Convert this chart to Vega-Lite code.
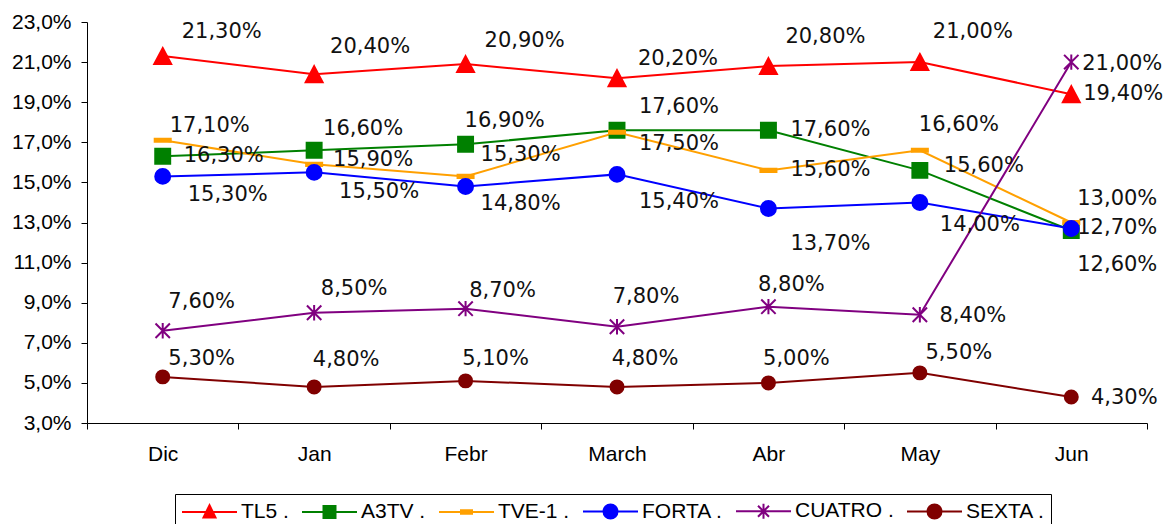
{
  "$schema": "https://vega.github.io/schema/vega-lite/v6.json",
  "autosize": {"type": "none"},
  "padding": {"left": 87, "top": 22, "right": 20, "bottom": 101},
  "width": 1060,
  "height": 401,
  "config": {
    "view": {"stroke": null},
    "locale": {"number": {"decimal": ",", "thousands": ".", "grouping": [3], "currency": ["", " €"]}}
  },
  "data": {
    "values": [
      {"month": "Dic", "series": "TL5 .", "v": 0.213},
      {"month": "Jan", "series": "TL5 .", "v": 0.204},
      {"month": "Febr", "series": "TL5 .", "v": 0.209},
      {"month": "March", "series": "TL5 .", "v": 0.202},
      {"month": "Abr", "series": "TL5 .", "v": 0.208},
      {"month": "May", "series": "TL5 .", "v": 0.210},
      {"month": "Jun", "series": "TL5 .", "v": 0.194},
      {"month": "Dic", "series": "A3TV .", "v": 0.163},
      {"month": "Jan", "series": "A3TV .", "v": 0.166},
      {"month": "Febr", "series": "A3TV .", "v": 0.169},
      {"month": "March", "series": "A3TV .", "v": 0.176},
      {"month": "Abr", "series": "A3TV .", "v": 0.176},
      {"month": "May", "series": "A3TV .", "v": 0.156},
      {"month": "Jun", "series": "A3TV .", "v": 0.126},
      {"month": "Dic", "series": "TVE-1 .", "v": 0.171},
      {"month": "Jan", "series": "TVE-1 .", "v": 0.159},
      {"month": "Febr", "series": "TVE-1 .", "v": 0.153},
      {"month": "March", "series": "TVE-1 .", "v": 0.175},
      {"month": "Abr", "series": "TVE-1 .", "v": 0.156},
      {"month": "May", "series": "TVE-1 .", "v": 0.166},
      {"month": "Jun", "series": "TVE-1 .", "v": 0.130},
      {"month": "Dic", "series": "FORTA .", "v": 0.153},
      {"month": "Jan", "series": "FORTA .", "v": 0.155},
      {"month": "Febr", "series": "FORTA .", "v": 0.148},
      {"month": "March", "series": "FORTA .", "v": 0.154},
      {"month": "Abr", "series": "FORTA .", "v": 0.137},
      {"month": "May", "series": "FORTA .", "v": 0.140},
      {"month": "Jun", "series": "FORTA .", "v": 0.127},
      {"month": "Dic", "series": "CUATRO .", "v": 0.076},
      {"month": "Jan", "series": "CUATRO .", "v": 0.085},
      {"month": "Febr", "series": "CUATRO .", "v": 0.087},
      {"month": "March", "series": "CUATRO .", "v": 0.078},
      {"month": "Abr", "series": "CUATRO .", "v": 0.088},
      {"month": "May", "series": "CUATRO .", "v": 0.084},
      {"month": "Jun", "series": "CUATRO .", "v": 0.210},
      {"month": "Dic", "series": "SEXTA .", "v": 0.053},
      {"month": "Jan", "series": "SEXTA .", "v": 0.048},
      {"month": "Febr", "series": "SEXTA .", "v": 0.051},
      {"month": "March", "series": "SEXTA .", "v": 0.048},
      {"month": "Abr", "series": "SEXTA .", "v": 0.050},
      {"month": "May", "series": "SEXTA .", "v": 0.055},
      {"month": "Jun", "series": "SEXTA .", "v": 0.043}
    ]
  },
  "encoding": {
    "x": {
      "field": "month",
      "type": "nominal",
      "sort": ["Dic", "Jan", "Febr", "March", "Abr", "May", "Jun"],
      "scale": {"type": "band", "paddingInner": 0, "paddingOuter": 0},
      "axis": {
        "title": null, "labelAngle": 0, "tickBand": "extent", "grid": false,
        "domainColor": "#000000", "tickColor": "#000000", "tickSize": 6,
        "labelFont": "Liberation Sans", "labelFontSize": 21, "labelColor": "#000000",
        "labelPadding": 14
      }
    },
    "y": {
      "field": "v",
      "type": "quantitative",
      "scale": {"domain": [0.03, 0.23], "nice": false, "zero": false},
      "axis": {
        "title": null, "grid": false, "format": ".1%",
        "values": [0.03, 0.05, 0.07, 0.09, 0.11, 0.13, 0.15, 0.17, 0.19, 0.21, 0.23],
        "domainColor": "#000000", "tickColor": "#000000", "tickSize": 6,
        "labelFont": "Liberation Sans", "labelFontSize": 21, "labelColor": "#000000",
        "labelPadding": 10
      }
    },
    "color": {
      "field": "series",
      "type": "nominal",
      "sort": ["TL5 .", "A3TV .", "TVE-1 .", "FORTA .", "CUATRO .", "SEXTA ."],
      "scale": {
        "domain": ["TL5 .", "A3TV .", "TVE-1 .", "FORTA .", "CUATRO .", "SEXTA ."],
        "range": ["#FF0000", "#008000", "#FFA000", "#0000FF", "#800080", "#800000"]
      },
      "legend": {
        "title": null,
        "orient": "none",
        "direction": "horizontal",
        "legendX": 88,
        "legendY": 472,
        "padding": 6,
        "strokeColor": "#000000",
        "fillColor": "#FFFFFF",
        "symbolSize": 400,
        "symbolStrokeWidth": 2,
        "symbolOffset": 0,
        "labelOffset": 38,
        "columnPadding": 9,
        "labelFont": "Liberation Sans",
        "labelFontSize": 21,
        "labelColor": "#000000",
        "labelLimit": 300,
        "encode": {
          "symbols": {
            "update": {
              "shape": {"signal": "datum.value === 'TL5 .' ? 'M-1,0H4.5M1.75,-0.68L2.35,0.55H1.15Z' : datum.value === 'A3TV .' ? 'M-1,0H4.5M1.15,-0.6H2.35V0.6H1.15Z' : datum.value === 'TVE-1 .' ? 'M-1,0H4.5M1.2,-0.17H2.3V0.17H1.2Z' : datum.value === 'CUATRO .' ? 'M-1,0H4.5M1.75,-0.75V0.75M1.2,-0.55L2.3,0.55M1.2,0.55L2.3,-0.55' : 'M-1,0H4.5M1.05,0A0.7,0.7 0 1,0 2.45,0A0.7,0.7 0 1,0 1.05,0Z'"},
              "size": {"value": 400},
              "fill": {"scale": "color", "field": "value"},
              "stroke": {"scale": "color", "field": "value"},
              "strokeWidth": {"value": 2},
              "opacity": {"value": 1}
            }
          }
        }
      }
    }
  },
  "layer": [
    {
      "mark": {"type": "line", "strokeWidth": 2},
      "encoding": {"detail": {"field": "series"}}
    },
    {
      "mark": {
        "type": "text",
        "font": "DejaVu Sans",
        "fontSize": 21,
        "align": "center",
        "baseline": "middle",
        "dx": {"expr": "[[59,56,59,61,57,53,52],[61,49,39,62,62,64,46],[47,59,55,62,62,39,46],[65,65,55,62,62,60,46],[39,40,37,29,23,53,51],[39,32,30,28,28,39,53]][indexof(['TL5 .','A3TV .','TVE-1 .','FORTA .','CUATRO .','SEXTA .'],datum.series)][indexof(['Dic','Jan','Febr','March','Abr','May','Jun'],datum.month)]"},
        "dy": {"expr": "[[-24,-27,-23,-19,-29,-30,0],[0,-21,-23,-23,0,-4,34],[-14,-4,-21,12,0,-25,-24],[19,20,18,28,36,23,-1],[-29,-24,-18,-30,-22,1,2],[-18,-27,-22,-28,-24,-20,1]][indexof(['TL5 .','A3TV .','TVE-1 .','FORTA .','CUATRO .','SEXTA .'],datum.series)][indexof(['Dic','Jan','Febr','March','Abr','May','Jun'],datum.month)]"}
      },
      "encoding": {
        "text": {"field": "v", "type": "quantitative", "format": ".2%"},
        "color": {"value": "#111111"}
      }
    },
    {
      "transform": [{"filter": "datum.series === 'TL5 .'"}],
      "mark": {"type": "point", "filled": true, "size": 324, "strokeWidth": 2, "opacity": 1, "stroke": "#FF0000", "shape": "M0,-0.89L0.94,0.89H-0.94Z"}
    },
    {
      "transform": [{"filter": "datum.series === 'A3TV .'"}],
      "mark": {"type": "point", "filled": true, "size": 324, "strokeWidth": 2, "opacity": 1, "stroke": "#008000", "shape": "M-0.83,-0.83H0.83V0.83H-0.83Z"}
    },
    {
      "transform": [{"filter": "datum.series === 'TVE-1 .'"}],
      "mark": {"type": "point", "filled": true, "size": 324, "strokeWidth": 2, "opacity": 1, "stroke": "#FFA000", "shape": "M-0.89,-0.17H0.89V0.17H-0.89Z"}
    },
    {
      "transform": [{"filter": "datum.series === 'FORTA .'"}],
      "mark": {"type": "point", "filled": true, "size": 324, "strokeWidth": 2, "opacity": 1, "stroke": "#0000FF", "shape": "M-0.83,0A0.83,0.83 0 1,0 0.83,0A0.83,0.83 0 1,0 -0.83,0Z"}
    },
    {
      "transform": [{"filter": "datum.series === 'CUATRO .'"}],
      "mark": {"type": "point", "filled": true, "size": 324, "strokeWidth": 2, "opacity": 1, "stroke": "#800080", "shape": "M0,-0.85V0.85M-0.8,-0.8L0.8,0.8M-0.8,0.8L0.8,-0.8"}
    },
    {
      "transform": [{"filter": "datum.series === 'SEXTA .'"}],
      "mark": {"type": "point", "filled": true, "size": 324, "strokeWidth": 2, "opacity": 1, "stroke": "#800000", "shape": "M-0.72,0A0.72,0.72 0 1,0 0.72,0A0.72,0.72 0 1,0 -0.72,0Z"}
    }
  ]
}
